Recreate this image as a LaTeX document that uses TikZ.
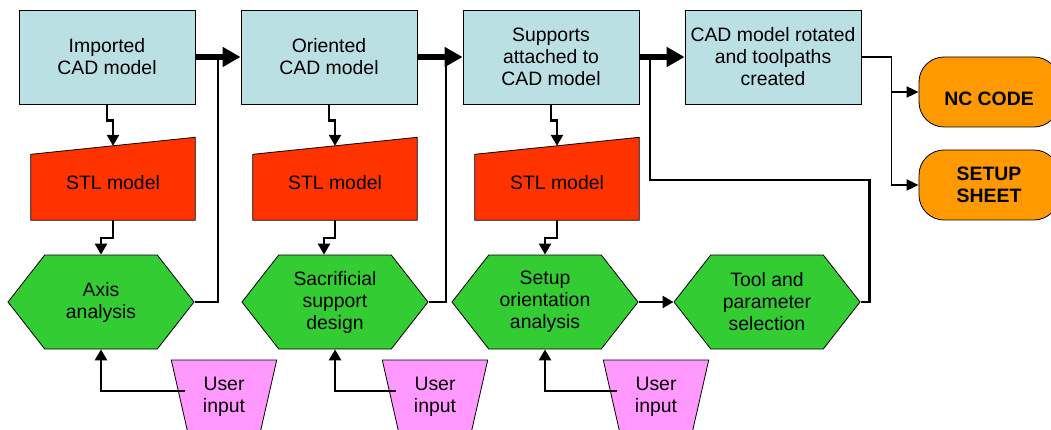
\documentclass[tikz,border=0pt]{standalone}
\usepackage{fontspec}
\setmainfont{Liberation Sans}
\usetikzlibrary{shapes.symbols,shapes.geometric,arrows.meta,backgrounds}
\definecolor{cadblue}{RGB}{187,224,227}
\definecolor{stlred}{RGB}{255,51,0}
\definecolor{hexgreen}{RGB}{51,204,51}
\definecolor{userpink}{RGB}{255,153,255}
\definecolor{outorange}{RGB}{255,153,0}

\begin{document}
\begin{tikzpicture}[x=1pt,y=1pt]
            \tikzstyle{every node}+=[inner sep=2pt,align=center,font=\fontsize{19.4}{22}\selectfont]
            \tikzstyle{cadbox}=[draw=black,line width=0.8pt,fill=cadblue,minimum width=176pt,minimum height=94pt]
            \tikzstyle{stlbox}=[minimum width=164pt,minimum height=74pt]
            \tikzstyle{hexbox}=[draw=black,line width=0.8pt,fill=hexgreen,signal,signal to=west and east,signal pointer angle=104,minimum width=186pt,minimum height=94pt]
            \tikzstyle{userbox}=[draw=black,line width=0.8pt,fill=userpink,trapezium,trapezium stretches=true,trapezium left angle=76,trapezium right angle=76,shape border rotate=180,minimum width=106pt,minimum height=74pt]
            \tikzstyle{outbox}=[draw=black,line width=0.8pt,fill=outorange,rounded corners=25pt,minimum width=140pt,minimum height=70pt,font=\fontsize{19.4}{22}\selectfont\bfseries]
            \tikzstyle{bigarrow}=[line width=6pt,-{Triangle[length=18pt,width=19pt]}]
            \tikzstyle{conn}=[line width=2.5pt,-{Triangle[length=11pt,width=12pt]}]
            \tikzstyle{feed}=[line width=2.5pt]
            \tikzstyle{outconn}=[line width=1.8pt,-{Triangle[length=12pt,width=11pt]}]
            \useasboundingbox (0,0) rectangle (1051,-430);
            \clip (0,0) rectangle (1051,-430);
            \node [cadbox] (cad1) at (107,-57) {Imported\\CAD model};
            \node [cadbox] (cad2) at (329,-57) {Oriented\\CAD model};
            \node [cadbox] (cad3) at (551,-57) {Supports\\attached to\\CAD model};
            \node [cadbox] (cad4) at (773,-57) {CAD model rotated\\and toolpaths\\created};
            \node [stlbox] (stl1) at (113,-183) {STL model};
            \node [stlbox] (stl2) at (335,-183) {STL model};
            \node [stlbox] (stl3) at (557,-183) {STL model};
            \node [hexbox] (hex1) at (101,-302) {Axis\\analysis};
            \node [hexbox] (hex2) at (335,-302) {Sacrificial\\support\\design};
            \node [hexbox] (hex3) at (545,-302) {Setup\\orientation\\analysis};
            \node [hexbox] (hex4) at (767,-302) {Tool and\\parameter\\selection};
            \node [userbox] (user1) at (224,-397) {User\\input};
            \node [userbox] (user2) at (435,-397) {User\\input};
            \node [userbox] (user3) at (656,-397) {User\\input};
            \node [outbox] (nc) at (989,-92) {\raisebox{-14pt}[0pt][0pt]{NC CODE}};
            \node [outbox] (sheet) at (989,-185) {SETUP\\SHEET};
            \coordinate (j1) at (218,-57);
            \coordinate (j2) at (446,-57);
            \coordinate (j3) at (650,-57);
            \begin{pgfonlayer}{background}
            \foreach \s in {stl1,stl2,stl3}
                \draw [black,line width=0.8pt,fill=stlred] (\s.south west) -- (\s.south east) -- ([yshift=8.5pt]\s.north east) -- ([yshift=-8.5pt]\s.north west) -- cycle;
            \end{pgfonlayer}
            \draw [feed] (hex1.east) -| (j1);
            \draw [feed] (hex2.east) -| (j2);
            \draw [feed] (hex4.east) -- ++(9,0) -- ++(0,122) -| (j3);
            \draw [bigarrow] (cad1.east) -- (cad2.west);
            \draw [bigarrow] (cad2.east) -- (cad3.west);
            \draw [bigarrow] (cad3.east) -- (cad4.west);
            \foreach \i in {1,2,3} {
                \draw [conn] (cad\i.south) -- ++(0,-16) -| (stl\i.north);
                \draw [conn] ([shift={(6pt,6pt)}]user\i.west) -| (hex\i.south);
            }
            \draw [conn] (stl1.south) -- ++(0,-18) -| (hex1.north);
            \draw [conn] (stl2.south) -- ++(0,-18) -| ([xshift=-11pt]hex2.north);
            \draw [conn] (stl3.south) -- ++(0,-18) -| (hex3.north);
            \draw [conn] (hex3.east) -- (hex4.west);
            \draw [outconn] (cad4.east) -- ++(30,0) |- (nc.west);
            \draw [outconn] (cad4.east) -- ++(30,0) |- (sheet.west);
\end{tikzpicture}
\end{document}
